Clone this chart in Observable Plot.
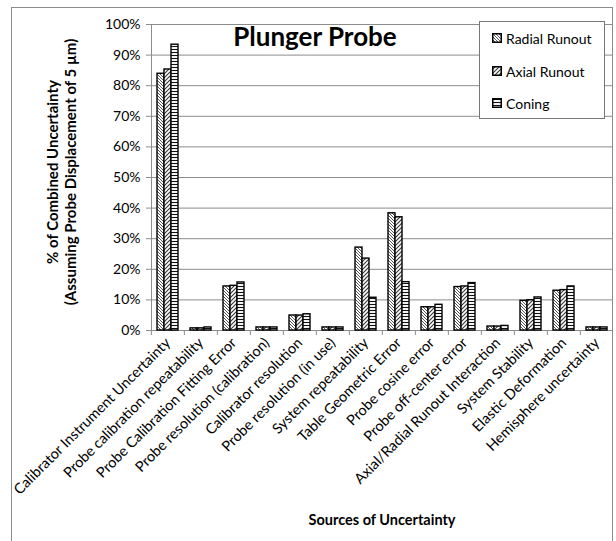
<!DOCTYPE html>
<html>
<head>
<meta charset="utf-8">
<script src="https://cdn.jsdelivr.net/npm/d3@7"></script>
<script src="https://cdn.jsdelivr.net/npm/@observablehq/plot@0.6"></script>
<style>
  html, body { margin: 0; padding: 0; background: #fff; }
  #wrap { position: relative; width: 616px; height: 541px; overflow: hidden; font-family: Lato, "Open Sans", sans-serif; }
  #wrap svg.plot { position: absolute; left: 0; top: 0; }
  .border { position: absolute; left: 11px; top: 7px; width: 602px; height: 560px; border: 1px solid #8c8c8c; box-sizing: border-box; pointer-events: none; }
  .title { position: absolute; left: 0; width: 630px; top: 21px; text-align: center; font-weight: bold; font-size: 26px; line-height: 30px; color: #000; }
  .ytitle { position: absolute; left: 61px; top: 172px; transform: translate(-50%, -50%) rotate(-90deg); white-space: nowrap; text-align: center; font-weight: bold; font-size: 15px; line-height: 18px; color: #000; }
  .xtitle { position: absolute; left: 382px; top: 519px; transform: translate(-50%, -50%); white-space: nowrap; font-weight: bold; font-size: 14.5px; color: #000; }
  .legend { position: absolute; left: 479px; top: 21px; width: 126px; height: 98px; box-sizing: border-box; border: 1px solid #777; background: #fff; }
  .legend .item { position: absolute; left: 12px; height: 16px; display: flex; align-items: center; font-size: 14px; color: #000; white-space: nowrap; }
  .legend .item svg { margin-right: 4px; }
</style>
</head>
<body>
<svg width="0" height="0" style="position:absolute">
  <defs>
    <pattern id="pRadial" width="3" height="3" patternUnits="userSpaceOnUse">
      <rect width="3" height="3" fill="#fff"/>
      <path d="M-1,-1 L4,4 M-1,2 L1,4 M2,-1 L4,1" stroke="#555" stroke-width="1"/>
    </pattern>
    <pattern id="pAxial" width="4" height="4" patternUnits="userSpaceOnUse">
      <rect width="4" height="4" fill="#fff"/>
      <path d="M-1,5 L5,-1 M-1,1 L1,-1 M3,5 L5,3" stroke="#333" stroke-width="1.1"/>
    </pattern>
    <pattern id="pConing" width="4" height="3" patternUnits="userSpaceOnUse">
      <rect width="4" height="3" fill="#fff"/>
      <path d="M0,1.5 L4,1.5" stroke="#111" stroke-width="1.1"/>
    </pattern>
  </defs>
</svg>
<div id="wrap">
  <div class="border"></div>
</div>
<script>
// ---- data ----
const categories = [
  "Calibrator Instrument Uncertainty",
  "Probe calibration repeatability",
  "Probe Calibration Fitting Error",
  "Probe resolution (calibration)",
  "Calibrator resolution",
  "Probe resolution (in use)",
  "System repeatability",
  "Table Geometric Error",
  "Probe cosine error",
  "Probe off-center error",
  "Axial/Radial Runout Interaction",
  "System Stability",
  "Elastic Deformation",
  "Hemisphere uncertainty"
];
const seriesNames = ["Radial Runout", "Axial Runout", "Coning"];
const radialRunout = [0.839, 0.007, 0.144, 0.010, 0.049, 0.010, 0.271, 0.383, 0.076, 0.142, 0.013, 0.097, 0.130, 0.010];
const axialRunout  = [0.853, 0.007, 0.146, 0.010, 0.049, 0.010, 0.235, 0.370, 0.076, 0.144, 0.013, 0.099, 0.132, 0.010];
const coning       = [0.934, 0.010, 0.157, 0.010, 0.053, 0.010, 0.107, 0.158, 0.084, 0.155, 0.015, 0.108, 0.144, 0.010];
const yTicks = [0, 0.1, 0.2, 0.3, 0.4, 0.5, 0.6, 0.7, 0.8, 0.9, 1.0];
const titleText = "Plunger Probe";
const yTitle = ["% of Combined Uncertainty", "(Assuming Probe Displacement of 5 µm)"];
const xTitle = "Sources of Uncertainty";

const seriesValues = [radialRunout, axialRunout, coning];
const patternIds = ["pRadial", "pAxial", "pConing"];
const rows = [];
seriesNames.forEach((s, j) => categories.forEach((c, i) => rows.push({category: c, series: s, value: seriesValues[j][i]})));

const W = 616, H = 541, mL = 149, mR = 1, mT = 24, mB = 211;
const step = (W - mL - mR) / categories.length;
const gray = "#8c8c8c";

const plot = Plot.plot({
  width: W, height: H,
  marginLeft: mL, marginRight: mR, marginTop: mT, marginBottom: mB,
  style: {fontFamily: "Lato, 'Open Sans', sans-serif", fontSize: "13px", color: "#000", background: "transparent"},
  fx: {domain: categories, padding: 0, label: null, axis: null},
  x: {domain: seriesNames, paddingInner: 0, paddingOuter: 0.78, axis: null},
  y: {domain: [0, 1], label: null, axis: null},
  marks: [
    Plot.gridY(yTicks, {stroke: gray, strokeOpacity: 1}),
    Plot.frame({anchor: "left", stroke: gray, facetAnchor: "left"}),
    Plot.axisY(yTicks, {tickFormat: d3.format(".0%"), tickSize: 5, tickPadding: 6, stroke: gray, fill: "#000", fontSize: 14, label: null}),
    Plot.axisFx({anchor: "bottom", tickRotate: -45, tickSize: 0, tickPadding: 10, fontSize: 14.5, fill: "#000", label: null}),
    Plot.axisFx({anchor: "bottom", tickFormat: () => "", tickSize: 5, dx: -step / 2, stroke: gray, label: null}),
    ...seriesNames.map((s, j) => Plot.barY(rows.filter(d => d.series === s), {
      fx: "category", x: "series", y: "value",
      fill: `url(#${patternIds[j]})`, stroke: "#000", strokeWidth: 1.4
    }))
  ]
});
plot.classList.add("plot");
const wrap = document.getElementById("wrap");
wrap.insertBefore(plot, wrap.firstChild);

// title
const t = document.createElement("div"); t.className = "title"; t.textContent = titleText; wrap.appendChild(t);
// y title
const yt = document.createElement("div"); yt.className = "ytitle"; yt.innerHTML = yTitle.map(s => `<div>${s}</div>`).join(""); wrap.appendChild(yt);
// x title
const xt = document.createElement("div"); xt.className = "xtitle"; xt.textContent = xTitle; wrap.appendChild(xt);
// legend
const lg = document.createElement("div"); lg.className = "legend";
const itemTops = [8, 41, 73];
seriesNames.forEach((s, j) => {
  const it = document.createElement("div"); it.className = "item"; it.style.top = itemTops[j] + "px";
  it.innerHTML = `<svg width="10" height="10"><rect x="0.75" y="0.75" width="8.5" height="8.5" fill="url(#${patternIds[j]})" stroke="#000" stroke-width="1.5"/></svg><span>${s}</span>`;
  lg.appendChild(it);
});
wrap.appendChild(lg);
</script>
</body>
</html>
